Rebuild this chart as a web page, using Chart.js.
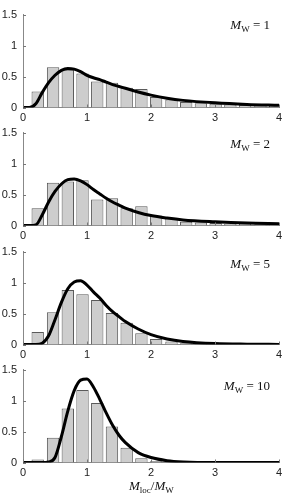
<!DOCTYPE html>
<html>
<head>
<meta charset="utf-8">
<script src="https://cdn.jsdelivr.net/npm/chart.js@4.4.0/dist/chart.umd.min.js"></script>
<style>
  body { margin: 0; background: #fff; }
  #wrap { position: relative; width: 288px; height: 493px; overflow: hidden; }
  canvas { position: absolute; left: 0; }
  .lbl, .xl { position: absolute; font-family: "Liberation Serif", "DejaVu Serif", serif; font-size: 13px; line-height: 13px; color: #111; white-space: nowrap; }
  .lbl { right: 18px; }
  .lbl i, .xl i { font-style: italic; }
  .sub { font-size: 9px; position: relative; top: 3px; font-style: normal; }
</style>
</head>
<body>
<div id="wrap">
  <canvas id="c1" width="288" height="130"></canvas>
  <canvas id="c2" width="288" height="130"></canvas>
  <canvas id="c3" width="288" height="130"></canvas>
  <canvas id="c4" width="288" height="130"></canvas>
  <div class="lbl" style="top:18px"><i>M</i><span class="sub">W</span> = 1</div>
  <div class="lbl" style="top:137px"><i>M</i><span class="sub">W</span> = 2</div>
  <div class="lbl" style="top:257px"><i>M</i><span class="sub">W</span> = 5</div>
  <div class="lbl" style="top:379px"><i>M</i><span class="sub">W</span> = 10</div>
  <div class="xl" style="left:129px; top:479px"><i>M</i><span class="sub">loc</span>/<i>M</i><span class="sub">W</span></div>
</div>
<script>
// histogram bin centres (same for every panel)
const binCenters = [0.23, 0.47, 0.70, 0.93, 1.16, 1.39, 1.62, 1.85, 2.08, 2.32, 2.55, 2.78, 3.01, 3.24, 3.47, 3.71, 3.94];

// bar heights
const bars1  = [0.26, 0.65, 0.61, 0.55, 0.42, 0.40, 0.32, 0.30, 0.17, 0.13, 0.09, 0.07, 0.06, 0.05, 0.04, 0.035, 0.03];
const bars2  = [0.28, 0.69, 0.71, 0.73, 0.42, 0.44, 0.28, 0.31, 0.16, 0.12, 0.06, 0.05, 0.04, 0.03, 0.03, 0.02, 0.02];
const bars5  = [0.20, 0.52, 0.88, 0.81, 0.72, 0.51, 0.35, 0.18, 0.09, 0.05, 0.02, 0.01, 0.005, 0.003, 0.002, 0.001, 0.001];
const bars10 = [0.05, 0.40, 0.87, 1.17, 0.96, 0.58, 0.24, 0.07, 0.02, 0.005, 0, 0, 0, 0, 0, 0, 0];

// fitted density curve
const curveX  = [0, 0.1, 0.2, 0.3, 0.4, 0.5, 0.6, 0.7, 0.8, 0.9, 1.0, 1.1, 1.2, 1.3, 1.4, 1.5, 1.6, 1.8, 2.0, 2.25, 2.5, 3.0, 3.5, 4.0];
const curve1  = [0, 0, 0.06, 0.24, 0.40, 0.52, 0.60, 0.63, 0.62, 0.58, 0.52, 0.48, 0.45, 0.41, 0.37, 0.34, 0.31, 0.25, 0.20, 0.15, 0.115, 0.075, 0.05, 0.035];
const curve2  = [0, 0, 0.01, 0.17, 0.38, 0.55, 0.67, 0.74, 0.75, 0.72, 0.66, 0.58, 0.51, 0.44, 0.38, 0.33, 0.28, 0.21, 0.16, 0.12, 0.09, 0.06, 0.04, 0.03];
const curve5  = [0, 0, 0, 0.02, 0.14, 0.40, 0.68, 0.90, 1.01, 1.03, 0.96, 0.85, 0.75, 0.63, 0.53, 0.45, 0.37, 0.25, 0.16, 0.09, 0.05, 0.015, 0.005, 0.002];
const curve10 = [0, 0, 0, 0, 0.01, 0.08, 0.42, 0.83, 1.16, 1.33, 1.35, 1.22, 1.02, 0.80, 0.60, 0.44, 0.32, 0.16, 0.08, 0.03, 0.01, 0, 0, 0];

const yTicks = [0, 0.5, 1, 1.5];
const xTicks = [0, 1, 2, 3, 4];

const panels = [
    { id: 'c1', bars: bars1,  curve: curve1,  top: 12 },
    { id: 'c2', bars: bars2,  curve: curve2,  top: 130 },
    { id: 'c3', bars: bars5,  curve: curve5,  top: 249 },
    { id: 'c4', bars: bars10, curve: curve10, top: 367 },
];

const padTop = 10;
const plotH  = 95.5;

// small inward tick marks like the original
const inwardTicks = {
    id: 'inwardTicks',
    afterDatasetsDraw(chart) {
        const { ctx, chartArea, scales } = chart;
        ctx.save();
        ctx.strokeStyle = '#777';
        ctx.lineWidth = 1;
        yTicks.forEach(v => {
            const y = Math.round(scales.y.getPixelForValue(v)) + 0.5;
            ctx.beginPath();
            ctx.moveTo(chartArea.left, y);
            ctx.lineTo(chartArea.left + 3, y);
            ctx.stroke();
        });
        xTicks.forEach(v => {
            const x = Math.round(scales.x.getPixelForValue(v)) + 0.5;
            ctx.beginPath();
            ctx.moveTo(x, chartArea.bottom);
            ctx.lineTo(x, chartArea.bottom - 3);
            ctx.stroke();
        });
        ctx.restore();
    }
};

const tickFont = { family: 'Liberation Sans', size: 11 };

panels.forEach(p => {
    const canvas = document.getElementById(p.id);
    canvas.style.top = (p.top - padTop) + 'px';

    new Chart(canvas.getContext('2d'), {
        type: 'bar',
        data: {
            datasets: [
                {
                    type: 'line',
                    data: curveX.map((x, i) => ({ x: x, y: p.curve[i] })),
                    borderColor: '#000',
                    borderWidth: 3,
                    pointRadius: 0,
                    cubicInterpolationMode: 'monotone',
                    order: 0,
                },
                {
                    type: 'bar',
                    data: binCenters.map((x, i) => ({ x: x, y: p.bars[i] })),
                    backgroundColor: '#cdcdcd',
                    borderColor: '#5a5a5a',
                    borderWidth: 1,
                    barPercentage: 0.84,
                    categoryPercentage: 1,
                    order: 1,
                },
            ],
        },
        options: {
            responsive: false,
            animation: false,
            layout: { padding: { top: padTop, right: 9, left: 0, bottom: 0 } },
            plugins: { legend: { display: false }, tooltip: { enabled: false } },
            scales: {
                x: {
                    type: 'linear',
                    min: 0,
                    max: 4,
                    offset: false,
                    grid: { display: false, drawTicks: false, tickLength: 0 },
                    border: { display: true, color: '#888', width: 1 },
                    ticks: { stepSize: 1, padding: 4, color: '#222', font: tickFont, maxRotation: 0 },
                    afterFit(s) { s.height = 130 - padTop - plotH; },
                },
                y: {
                    min: 0,
                    max: 1.5,
                    grid: { display: false, drawTicks: false, tickLength: 0 },
                    border: { display: true, color: '#888', width: 1 },
                    ticks: { stepSize: 0.5, padding: 6, color: '#222', font: tickFont, callback: v => String(v) },
                    afterFit(s) { s.width = 23; },
                },
            },
        },
        plugins: [inwardTicks],
    });
});
</script>
</body>
</html>
